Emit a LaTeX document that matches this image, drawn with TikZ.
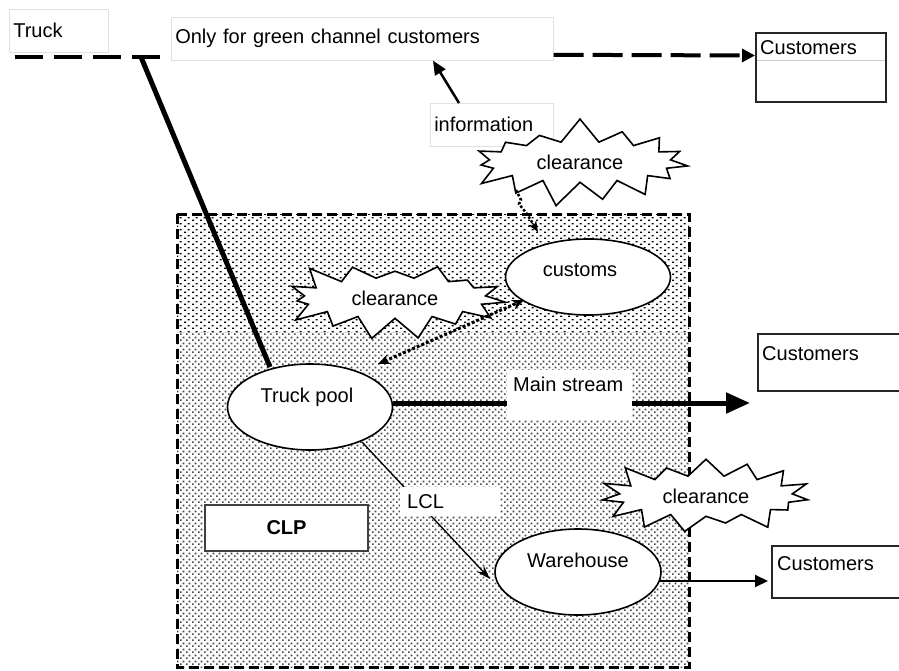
\documentclass[tikz,border=0pt]{standalone}
\usepackage{fontspec}
\setmainfont{Liberation Sans}
\usetikzlibrary{shapes.geometric,shapes.symbols,patterns.meta,arrows.meta,calc}

% sparse dash-dots for the upper band of the CLP area
\tikzdeclarepattern{
  name=sparsedots, type=uncolored,
  bounding box={(0pt,0pt) and (8pt,6pt)},
  tile size={(8pt,6pt)},
  code={\fill (0pt,0pt) rectangle (2.4pt,1.6pt);
        \fill (4pt,3pt) rectangle (6.4pt,4.6pt);}
}
% denser diagonal dot lattice for the lower band
\tikzdeclarepattern{
  name=densedots, type=uncolored,
  bounding box={(0pt,0pt) and (6pt,6pt)},
  tile size={(6pt,6pt)},
  code={\fill (0pt,0pt) rectangle (2pt,2pt);
        \fill (3pt,3pt) rectangle (5pt,5pt);}
}

\begin{document}
\begin{tikzpicture}[x=1pt,y=-1pt,
  font=\fontsize{20}{24}\selectfont,
  faintbox/.style={draw=black!12, line width=0.6pt, fill=white, inner xsep=4pt,
                   inner ysep=0pt, align=left, minimum height=43pt, anchor=north west},
  custbox/.style={draw=black!85, line width=2pt, fill=white, inner sep=0pt, anchor=north west},
  oval/.style={ellipse, draw, line width=1.6pt, fill=white, inner sep=0pt},
  burst/.style={starburst, draw, line width=1.6pt, fill=white, inner xsep=21pt, inner ysep=7pt,
                starburst points=15, starburst point height=25pt},
  cutout/.style={fill=white, inner sep=0pt, anchor=north west},
  txt/.style={inner sep=0pt},
  clpborder/.style={line width=3pt, dash pattern=on 10pt off 5pt},
]
\clip (0,0) rectangle (899,671);
\fill[white] (0,0) rectangle (899,671);

% ---- CLP area: two textured bands inside a dashed frame
\fill[pattern=sparsedots, pattern color=black] (177,214) rectangle (689,332);
\fill[pattern=densedots, pattern color=black!72] (177,332) rectangle (689,667);
\draw[clpborder] (177,214) rectangle (689,667);

% ---- top labels
\node[faintbox, text width=91pt] (truck) at (9,9) {Truck};
\node[faintbox, text width=374pt] (only) at (171,17) {Only for green channel customers};
\node[faintbox, text width=115pt] (info) at (430,103) {information};

% ---- customer boxes
\node[custbox, minimum width=130pt, minimum height=69pt] (cust1) at (755,32) {};
\draw[black!20, line width=0.6pt] ($(cust1.north west)+(2,28)$) -- ($(cust1.north east)+(-2,28)$);
\node[txt, anchor=west] (cust1t) at ($(cust1.north west)+(5,16)$) {Customers};
\node[custbox, minimum width=170pt, minimum height=57pt] (cust2) at (757,333) {};
\node[txt, anchor=west] (cust2t) at ($(cust2.north west)+(5,21)$) {Customers};
\node[custbox, minimum width=160pt, minimum height=52pt] (cust3) at (771,545) {};
\node[txt, anchor=west] (cust3t) at ($(cust3.north west)+(6,19)$) {Customers};

% ---- truck route
\coordinate (dashstart) at (15,57);
\coordinate (dashend) at (165,57);
\coordinate (bend) at (141,57);
\draw[line width=4.5pt, dash pattern=on 28pt off 11pt] (dashstart) -- (dashend);
\draw[line width=5pt] (bend) -- (270,367) coordinate (poolhit);

% ---- ovals
\node[oval, minimum width=165pt, minimum height=86pt] (tp) at (310,407) {};
\node[txt] (tpt) at (307,397) {Truck pool};
\node[oval, minimum width=165pt, minimum height=76pt] (cu) at (588,277) {};
\node[txt] (cut) at (580,270) {customs};
\node[oval, minimum width=166pt, minimum height=86pt] (wh) at (578,572) {};
\node[txt] (wht) at (578,560) {Warehouse};

% ---- flows
\draw[line width=5pt, -{Triangle[length=24pt,width=20pt]}]
  ($(tp.east)+(0,-4)$) -- (750,403) coordinate (msend);
\node[cutout, minimum width=125pt, minimum height=50pt] (ms) at (507,370) {};
\node[txt, anchor=west] (mst) at (513,384) {Main stream};

\draw[line width=1.3pt, -{Stealth[length=14pt,width=9pt]}] (362,442) -- (490,579) coordinate (lclend);
\node[cutout, minimum width=100pt, minimum height=29pt] (lcl) at (400,487) {};
\node[txt, anchor=west] (lclt) at (407,502) {LCL};

\draw[line width=2pt, -{Triangle[length=13pt,width=12pt]}]
  (659,581) -- (768,581) coordinate (whend);

\node[draw=black!75, line width=2pt, fill=white, minimum width=163pt, minimum height=46pt,
      anchor=north west, font=\fontsize{20}{24}\selectfont\bfseries] (clp) at (204,504) {CLP};

% ---- clearance bursts
\node[burst, random starburst=7] (clr1) at (580,162) {clearance};
\node[burst, random starburst=23] (clr2) at (395,298) {clearance};
\node[burst, random starburst=41, inner xsep=18pt] (clr3) at (706,496) {clearance};

% ---- information links
\draw[line width=4pt, dash pattern=on 30pt off 9pt, -{Triangle[length=13pt,width=13pt]}]
  ($(only.east)+(0,16)$) -- ($(cust1.west)+(0,-12)$);
\draw[line width=2.5pt, -{Triangle[length=14pt,width=12pt]}]
  ($(info.north west)+(29,0)$) -- ($(only.south west)+(262,0)$);
\draw[line width=2.5pt, dotted, -{Stealth[length=11pt,width=9pt]}]
  (516,190) -- (521,200) -- (519,204) -- (527,214) -- (538,232);
\draw[line width=3pt, dotted, {Stealth[length=12pt,width=10pt]}-{Stealth[length=12pt,width=10pt]}]
  (378,364) -- (524,300);
\end{tikzpicture}
\end{document}
